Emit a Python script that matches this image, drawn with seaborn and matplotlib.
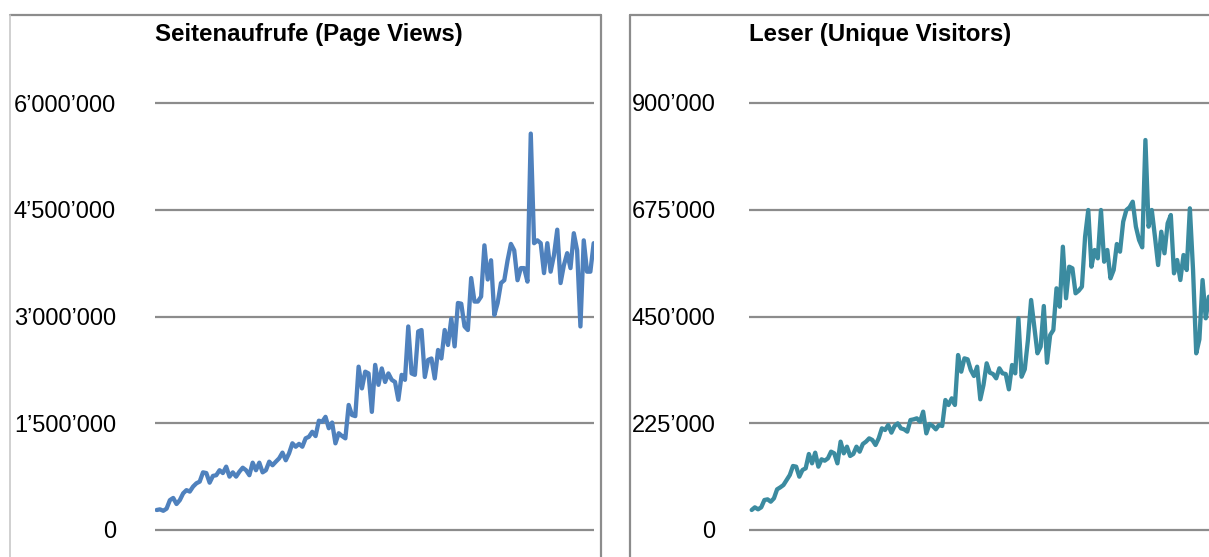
import numpy as np
import pandas as pd
import seaborn as sns
import matplotlib.pyplot as plt
from matplotlib import font_manager
from matplotlib.lines import Line2D
from matplotlib.ticker import FuncFormatter, FixedLocator

# weekly values
page_views = [
    0.281, 0.29, 0.27, 0.30, 0.42, 0.45, 0.365, 0.42, 0.515, 0.56,
    0.54, 0.61, 0.656, 0.68, 0.81, 0.80, 0.665, 0.76, 0.77, 0.84,
    0.80, 0.89, 0.75, 0.81, 0.75, 0.82, 0.875, 0.84, 0.77, 0.946,
    0.84, 0.946, 0.81, 0.84, 0.96, 0.91, 0.96, 1.007, 1.087, 0.98,
    1.078, 1.218, 1.17, 1.21, 1.17, 1.288, 1.31, 1.38, 1.32, 1.536,
    1.52, 1.59, 1.43, 1.51, 1.218, 1.36, 1.32, 1.288, 1.757, 1.616,
    1.60, 2.295, 1.99, 2.225,
    2.20, 1.66, 2.32, 2.04, 2.27, 2.08, 2.20, 2.11, 2.08, 1.83,
    2.18, 2.11, 2.86, 2.20, 2.18, 2.79, 2.81, 2.15, 2.39, 2.41,
    2.13, 2.53, 2.41, 2.81, 2.60, 2.97, 2.58, 3.19, 3.18, 2.86,
    2.81, 3.54, 3.21, 3.21, 3.28, 4.00, 3.52, 3.79, 3.02, 3.19,
    3.47, 3.51, 3.79, 4.02, 3.93, 3.51, 3.68, 3.68, 3.49, 5.57,
    4.03, 4.07, 4.03, 3.61, 4.03, 3.63, 3.86, 4.22, 3.47, 3.72,
    3.89, 3.68, 4.17, 3.93, 2.86, 4.07, 3.63, 3.63, 4.03,
]  # millions

visitors = [
    42.2, 47.8, 43.6, 47.8, 63.2, 64.6, 59.7, 66.7, 85.7, 89.9,
    94.8, 105.4, 115.9, 134.9, 133.5, 112.4, 126.5, 130, 160.2, 140.5,
    163, 133.5, 149, 146.1, 151, 165.1, 161.6, 140.5, 186.2, 161.6,
    175.6, 156, 160.2, 175.6, 165.1, 181.3, 186.2, 193.2, 189.7, 179.2,
    193.2, 214.3, 210.8, 221.3, 205.2, 219.2, 224.8, 214.3, 212.2, 207.3,
    231.8, 233.2, 235.4, 228.3, 249.4, 203.7, 223.4, 219.2, 212.2, 221.3,
    219.2, 274, 263.5, 277.5, 263.5,
    368.8, 333.7, 361.8, 359.7, 337.2, 324.6, 344.2, 275.4, 305.6, 351.3,
    331.6, 328.8, 319.7, 340.8, 330.2, 328.8, 296.5, 347.8, 330.2, 446.2,
    323.1, 338.7, 400.5, 484.8, 428.5, 372.4, 386.3, 472.1, 352.6, 411,
    421.5, 509.4, 470.6, 597.1, 488.4, 555, 551.6, 498.9, 504.4, 512.8,
    618.2, 674.5, 555, 590.2, 572.6, 674.5, 565.5, 590.2, 530.5, 548,
    602.8, 586.6, 649.8, 674.5, 680.1, 692, 639.3, 611.2, 595.8, 822,
    639.3, 674.5, 618.2, 558.5, 628.7, 583.2, 646.4, 663.9, 541, 569.1,
    526.9, 579.6, 548, 678, 548, 372.4, 401.9, 526.9, 446.2, 491.8,
]  # thousands

pv_ticks = [0, 1500000, 3000000, 4500000, 6000000]
uv_ticks = [0, 225000, 450000, 675000, 900000]
titles = ["Seitenaufrufe (Page Views)", "Leser (Unique Visitors)"]

df_pv = pd.DataFrame({"week": range(len(page_views)),
                      "value": np.array(page_views) * 1e6})
df_uv = pd.DataFrame({"week": range(len(visitors)),
                      "value": np.array(visitors) * 1e3})

sns.set_style("white")
names = {f.name for f in font_manager.fontManager.ttflist}
if "Liberation Sans Narrow" in names:
    font, tick_size, title_size = "Liberation Sans Narrow", 21, 20
else:
    font, tick_size, title_size = "Liberation Sans", 17, 17.3
plt.rcParams["font.family"] = [font, "DejaVu Sans"]
plt.rcParams["text.color"] = "black"
plt.rcParams["ytick.color"] = "black"

W, H = 1209, 557
fig = plt.figure(figsize=(W / 100, H / 100), dpi=100)

grid_c = "#8c8c8c"
fmt = FuncFormatter(lambda v, p: f"{int(round(v)):,}".replace(",", "\u2019"))


def panel(x0, x1, df, ticks, color, xlim, title, pad):
    # axes spans 6px beyond the outer gridlines (103px top, 530px bottom)
    ax = fig.add_axes([x0 / W, (H - 536) / H, (x1 - x0) / W, (536 - 97) / H])
    sns.lineplot(data=df, x="week", y="value", ax=ax, color=color, lw=3.1)
    k = ticks[-1] / 427 * 6
    ax.set_ylim(-k, ticks[-1] + k)
    ax.set_xlim(*xlim)
    ax.yaxis.set_major_locator(FixedLocator(ticks))
    ax.yaxis.set_major_formatter(fmt)
    ax.grid(axis="y", color=grid_c, lw=1.6)
    ax.set_xticks([])
    ax.set_xlabel("")
    ax.set_ylabel("")
    ax.tick_params(axis="y", length=0, pad=pad, labelsize=tick_size,
                   labelcolor="black")
    for s in ax.spines.values():
        s.set_visible(False)
    fig.text(x0 / W, 1 - 41 / H, title, fontsize=title_size, color="black",
             fontweight="bold", ha="left", va="baseline")
    return ax


n1 = len(page_views)
n2 = len(visitors)
panel(155, 594, df_pv, pv_ticks, "#4f81bd", (-0.5, n1 - 1 + 0.1),
      titles[0], 28)
panel(749, 1214, df_uv, uv_ticks, "#3b8ba0", (-0.85, n2 - 1 + 1.6),
      titles[1], 24)

# chart frames
def fline(xs, ys, c=grid_c, lw=1.6):
    fig.add_artist(Line2D([x / W for x in xs], [1 - y / H for y in ys],
                          color=c, lw=lw, transform=fig.transFigure))

fline([10, 601], [15, 15])
fline([10, 10], [15, H + 5], c="#c8c8c8", lw=1.2)
fline([601, 601], [15, H + 5])
fline([630, W + 5], [15, 15])
fline([630, 630], [15, H + 5])

fig.savefig("out.png", dpi=100)
